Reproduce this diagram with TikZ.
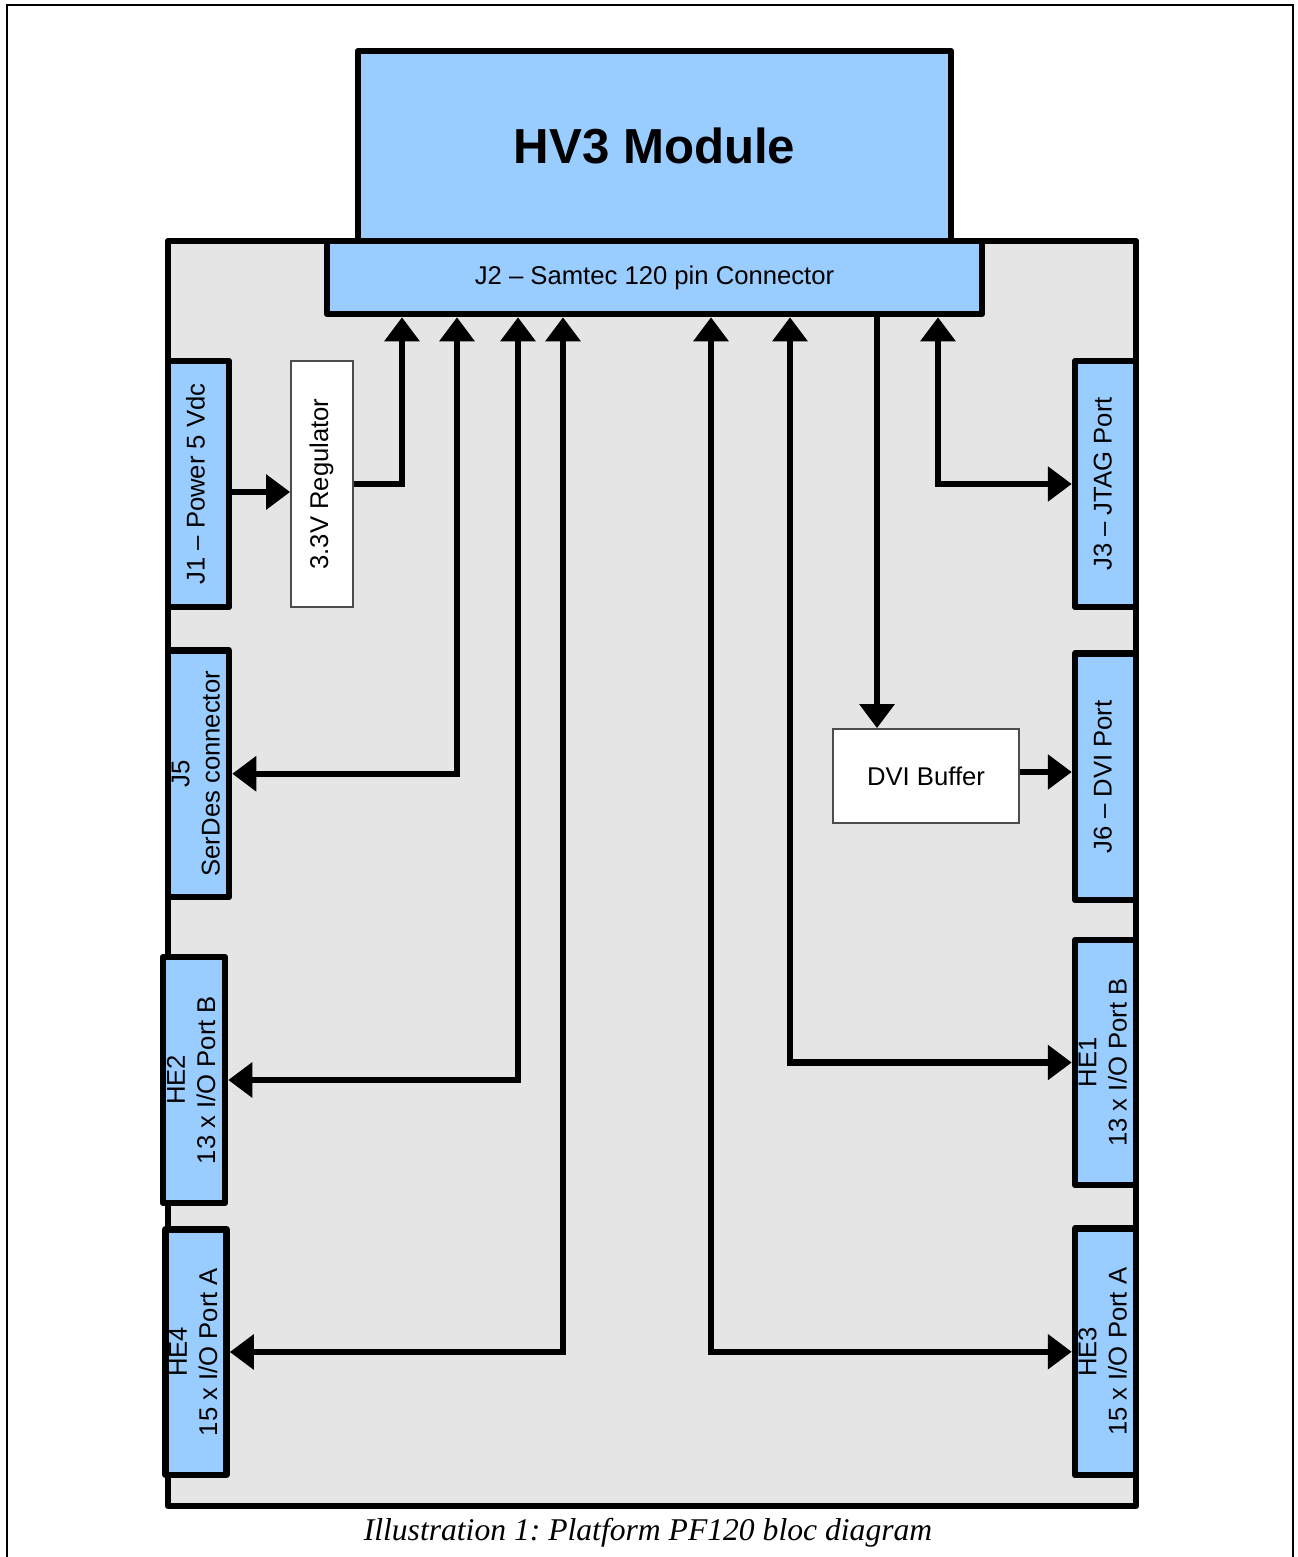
\documentclass[tikz,border=0pt]{standalone}
\usepackage{fontspec}
\setmainfont{Liberation Serif}
\setsansfont{Liberation Sans}
\usepackage{graphicx}
\usetikzlibrary{arrows.meta}
\definecolor{portblue}{HTML}{99CCFF}
\definecolor{boardgray}{HTML}{E5E5E5}
\frenchspacing
\newcommand{\labelfont}{\sffamily\fontsize{7.3}{8.6}\selectfont}
\newcommand{\vlabel}[1]{\rotatebox{90}{\begin{tabular}{@{}c@{}}#1\end{tabular}}}
\tikzset{
  pcbbox/.style={draw, fill=boardgray, line width=1.85pt, line join=round, inner sep=0pt},
  module/.style={draw, fill=portblue, line width=1.85pt, line join=round, inner sep=0pt, align=center},
  port/.style={draw, fill=portblue, line width=1.85pt, line join=round, inner sep=0pt, minimum width=6.1mm, minimum height=24.6mm, font=\labelfont},
  chip/.style={draw=black!70, fill=white, line width=0.5pt, inner sep=0pt, font=\labelfont},
  bus/.style={line width=1.85pt, >={Triangle[length=2.4mm,width=3.4mm]}}
}

\begin{document}
\begin{tikzpicture}[x=0.1mm, y=-0.1mm]
  \useasboundingbox (0,0) rectangle (1297,1557);
  \draw[line width=0.4pt] (7,1557) -- (7,5) -- (1293,5) -- (1293,1557);

  % board, module and main connector
  \node[pcbbox, minimum width=96.8mm, minimum height=126.5mm] (pcb) at (652,873.5) {};
  \node[module, minimum width=59.3mm, minimum height=19mm, font=\sffamily\bfseries\fontsize{14}{17}\selectfont] (hv3) at (654.5,146) {HV3 Module};
  \node[module, minimum width=65.5mm, minimum height=7.3mm, font=\labelfont] (j2) at (654.5,277.5) {J2 – Samtec 120 pin Connector};

  % left side
  \node[port] (j1) at (198.5,484) {\vlabel{J1 – Power 5 Vdc}};
  \node[chip, minimum width=6.2mm, minimum height=24.6mm] (reg) at (322,484) {\vlabel{3.3V Regulator}};
  \node[port, minimum height=24.65mm] (j5) at (198.5,773.75) {\vlabel{J5\\SerDes connector}};
  \node[port, minimum width=6.2mm] (he2) at (194,1080) {\vlabel{HE2\\13 x I/O Port B}};
  \node[port, minimum height=24.55mm] (he4) at (196,1352) {\vlabel{HE4\\15 x I/O Port A}};

  % right side
  \node[port] (j3) at (1105.5,484) {\vlabel{J3 – JTAG Port}};
  \node[port, minimum height=24.65mm] (j6) at (1105.5,776.75) {\vlabel{J6 – DVI Port}};
  \node[chip, minimum width=18.6mm, minimum height=9.4mm] (dvi) at (926,776) {DVI Buffer};
  \node[port, minimum height=24.5mm] (he1) at (1105.5,1062.5) {\vlabel{HE1\\13 x I/O Port B}};
  \node[port, minimum height=24.65mm] (he3) at (1105.5,1351.75) {\vlabel{HE3\\15 x I/O Port A}};

  \node[anchor=base, font=\itshape\fontsize{9}{11}\selectfont] (caption) at (648,1540) {Illustration 1: Platform PF120 bloc diagram};

  % drop points on J2
  \foreach \t/\x in {a/402,b/457,c/518,d/563,e/711,f/790,g/877,h/938}
    \coordinate (tap\t) at (\x,0);

  \draw[bus,->] ([yshift=-0.8mm]j1.east) -- ([yshift=-0.8mm]reg.west);
  \draw[bus,->] (reg.east) -| (j2.south -| tapa);
  \draw[bus,<->] (j5.east) -| (j2.south -| tapb);
  \draw[bus,<->] (he2.east) -| (j2.south -| tapc);
  \draw[bus,<->] (he4.east) -| (j2.south -| tapd);
  \draw[bus,<->] (he3.west) -| (j2.south -| tape);
  \draw[bus,<->] (he1.west) -| (j2.south -| tapf);
  \draw[bus,->] (j2.south -| tapg) -- (dvi.north -| tapg);
  \draw[bus,<->] (j3.west) -| (j2.south -| taph);
  \draw[bus,->] ([yshift=0.4mm]dvi.east) -- ([yshift=0.4mm]dvi.east -| j6.west);
\end{tikzpicture}
\end{document}
